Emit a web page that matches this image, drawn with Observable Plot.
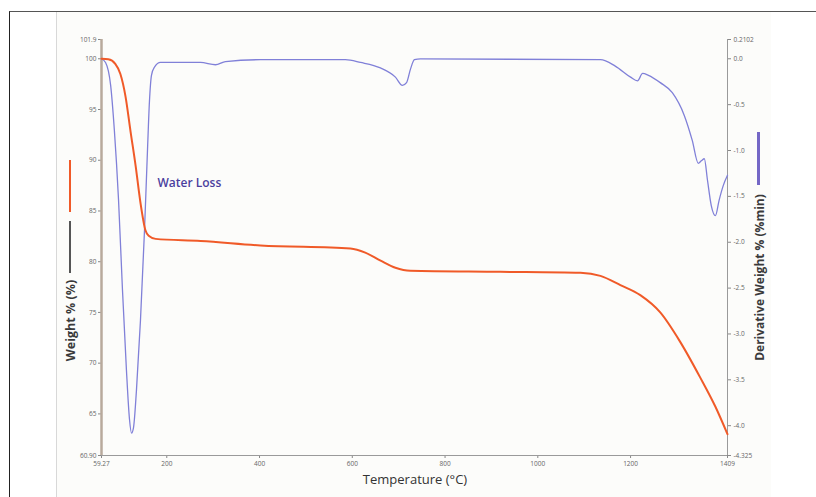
<!DOCTYPE html>
<html><head><meta charset="utf-8">
<script src="https://cdn.jsdelivr.net/npm/d3@7"></script>
<script src="https://cdn.jsdelivr.net/npm/@observablehq/plot@0.6"></script>
<style>
html,body{margin:0;padding:0;background:#fff;}
#wrap{position:relative;width:816px;height:497px;overflow:hidden;font-family:"Open Sans",sans-serif;}
#frame{position:absolute;left:9px;top:11px;right:-2px;bottom:-2px;border-left:1.5px solid #222;border-top:1.5px solid #555;}
#panel{position:absolute;left:56px;top:12px;width:714px;bottom:0;background:#fcfcfa;border-left:1px solid #d8d8d8;}
#chart{position:absolute;left:0;top:0;}
.vt{position:absolute;transform-origin:center center;white-space:nowrap;font-weight:700;color:#3a3a3a;}
.seg{position:absolute;}
</style></head>
<body><div id="wrap">
<div id="frame"></div>
<div id="panel"></div>
<div id="chart"></div>
<div class="seg" style="left:69px;top:160px;width:2px;height:52px;background:#f05a28"></div>
<div class="seg" style="left:69px;top:221px;width:2px;height:52px;background:#555"></div>
<div class="vt" style="left:20px;top:312px;width:100px;text-align:center;font-size:12.5px;transform:rotate(-90deg)">Weight % (%)</div>
<div class="seg" style="left:757px;top:132px;width:3px;height:53px;background:#7467c6"></div>
<div class="vt" style="left:669px;top:269px;width:180px;text-align:center;font-size:12px;transform:rotate(-90deg)">Derivative Weight % (%min)</div>
<div style="position:absolute;left:360px;top:470px;width:110px;text-align:center;font-size:13px;color:#333;">Temperature (°C)</div>
</div>
<script>
// Weight curve (left axis)
const weightT   = [59.27, 74, 89, 100, 111, 122, 133, 143, 154, 161, 176, 273, 402, 596, 628, 661, 693, 725, 919, 1092, 1135, 1178, 1221, 1264, 1307, 1350, 1383, 1409];
const weightPct = [100, 99.95, 99.5, 98.5, 96.3, 92.8, 89.4, 85.9, 83.1, 82.55, 82.25, 82.05, 81.6, 81.3, 80.9, 80.1, 79.4, 79.1, 79.0, 78.9, 78.6, 77.7, 76.7, 75.0, 72.1, 68.6, 65.7, 63.0];
// Derivative curve (right axis)
const derivT   = [59.27, 68, 79, 87, 96, 104.5, 113, 119.6, 124, 128.3, 134.7, 143.3, 152, 158.4, 162.7, 167, 173.5, 186.5, 272.7, 305, 326.6, 402, 585, 617.6, 660.7, 693, 708, 717, 725.6, 734, 747, 1135, 1167, 1200, 1215, 1226, 1238.5, 1264, 1290, 1316, 1333, 1346, 1353, 1359, 1366, 1374, 1383, 1391, 1400, 1409];
const derivVal = [0, -0.04, -0.29, -0.78, -1.54, -2.52, -3.39, -3.93, -4.08, -4.02, -3.61, -2.85, -1.87, -1.0, -0.46, -0.18, -0.09, -0.04, -0.04, -0.065, -0.03, -0.01, -0.01, -0.04, -0.1, -0.2, -0.29, -0.26, -0.11, -0.01, 0, -0.01, -0.08, -0.2, -0.24, -0.16, -0.18, -0.26, -0.37, -0.62, -0.89, -1.14, -1.11, -1.09, -1.33, -1.6, -1.71, -1.54, -1.38, -1.27];
// Axis ticks
const xTicks = [59.27, 200, 400, 600, 800, 1000, 1200, 1409];
const xTickLabels = ["59.27", "200", "400", "600", "800", "1000", "1200", "1409"];
const wTicks = [60.9, 65, 70, 75, 80, 85, 90, 95, 100, 101.9];
const wTickLabels = ["60.90", "65", "70", "75", "80", "85", "90", "95", "100", "101.9"];
const dTicks = [-4.325, -4.0, -3.5, -3.0, -2.5, -2.0, -1.5, -1.0, -0.5, 0.0, 0.2102];
const dTickLabels = ["-4.325", "-4.0", "-3.5", "-3.0", "-2.5", "-2.0", "-1.5", "-1.0", "-0.5", "0.0", "0.2102"];
const annotation = [{T: 180, w: 87.7, label: "Water Loss"}];

const wMin = 60.9, wMax = 101.9, dMin = -4.325, dMax = 0.2102;
const toW = d => wMin + (d - dMin) * (wMax - wMin) / (dMax - dMin);
const nearestLabel = (ticks, labels) => v => {
  let bi = 0, bd = Infinity;
  ticks.forEach((t, i) => { const e = Math.abs(t - v); if (e < bd) { bd = e; bi = i; } });
  return labels[bi];
};
const weightData = weightT.map((T, i) => ({T, w: weightPct[i]}));
const derivData = derivT.map((T, i) => ({T, w: toW(derivVal[i])}));
const dTicksW = dTicks.map(toW);

const chart = Plot.plot({
  width: 816, height: 497,
  marginLeft: 101, marginRight: 89, marginTop: 39, marginBottom: 42,
  x: {domain: [59.27, 1409]},
  y: {domain: [wMin, wMax]},
  style: {background: "transparent", fontFamily: "Open Sans, sans-serif", fontSize: "6.5px", color: "#666"},
  marks: [
    Plot.axisX({ticks: xTicks, tickFormat: nearestLabel(xTicks, xTickLabels), tickSize: 3, tickPadding: 3, label: null, stroke: "#888"}),
    Plot.axisY({ticks: wTicks, tickFormat: nearestLabel(wTicks, wTickLabels), tickSize: 3, tickPadding: 2, label: null, anchor: "left", stroke: "#888"}),
    Plot.axisY({ticks: dTicksW, tickFormat: nearestLabel(dTicksW, dTickLabels), tickSize: 3, tickPadding: 3, label: null, anchor: "right", stroke: "#888"}),
    Plot.ruleY([wMin], {stroke: "#9a9a9a", strokeWidth: 1}),
    Plot.ruleX([1409], {stroke: "#9a9a9a", strokeWidth: 1}),
    Plot.ruleX([59.27], {stroke: "#b8aa9c", strokeWidth: 2.5}),
    Plot.line(derivData, {x: "T", y: "w", stroke: "#8080d8", strokeWidth: 1.3, curve: "monotone-x"}),
    Plot.line(weightData, {x: "T", y: "w", stroke: "#f05a28", strokeWidth: 2, curve: "monotone-x"}),
    Plot.text(annotation, {x: "T", y: "w", text: "label", textAnchor: "start", fill: "#4b3f9e", fontSize: 12, fontWeight: 600})
  ]
});
document.getElementById("chart").appendChild(chart);
</script>
</body></html>
